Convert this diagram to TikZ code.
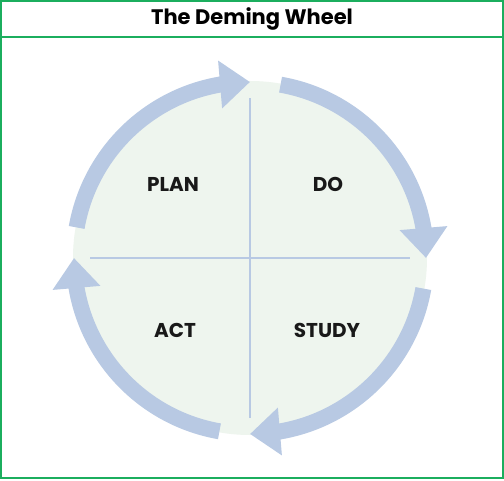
\documentclass[tikz,border=0pt]{standalone}
\usepackage{fontspec}
\setmainfont{Poppins}
\usepackage{tikz}
\usetikzlibrary{arrows.meta, positioning, calc, bending}

\definecolor{framegreen}{HTML}{1BAE5E}
\definecolor{wheelfill}{HTML}{EEF5EE}
\definecolor{wheelblue}{HTML}{B8C9E3}

\tikzset{
    phase/.style={font=\fontsize{20}{24}\selectfont\bfseries, text=black!90},
    turnarrow/.style={wheelblue, line width=16pt, -{Triangle[width=46pt, length=30pt]}},
}

\begin{document}
\begin{tikzpicture}[x=1pt, y=1pt]
    % Frame and title band
    \fill[white] (0,0) rectangle (504,480);
    \draw[framegreen, line width=2pt] (1,2) rectangle (503,479);
    \draw[framegreen, line width=1.6pt] (1,443) -- (503,443);
    \node[font=\fontsize{21}{24}\selectfont\bfseries] (title) at (252,461) {The Deming Wheel};

    % Wheel
    \coordinate (hub) at (250,222);
    \fill[wheelfill] (hub) circle (177);
    \draw[wheelblue, line width=1.6pt] ($(hub)+(-160,0)$) -- ($(hub)+(160,0)$);
    \draw[wheelblue, line width=1.6pt] ($(hub)+(0,-160)$) -- ($(hub)+(0,160)$);

    % Turning arrows, clockwise
    \draw[turnarrow] ([shift={(170:176)}]hub) arc[start angle=170, end angle=90, radius=176];
    \draw[turnarrow] ([shift={(80:176)}]hub) arc[start angle=80, end angle=0, radius=176];
    \draw[turnarrow] ([shift={(-10:176)}]hub) arc[start angle=-10, end angle=-90, radius=176];
    \draw[turnarrow] ([shift={(-100:176)}]hub) arc[start angle=-100, end angle=-180, radius=176];

    % Quadrant labels
    \node[phase] (plan) at (173,296) {PLAN};
    \node[phase] (do) at (328,296) {DO};
    \node[phase] (act) at (175,150) {ACT};
    \node[phase] (study) at (327,150) {STUDY};
\end{tikzpicture}
\end{document}
